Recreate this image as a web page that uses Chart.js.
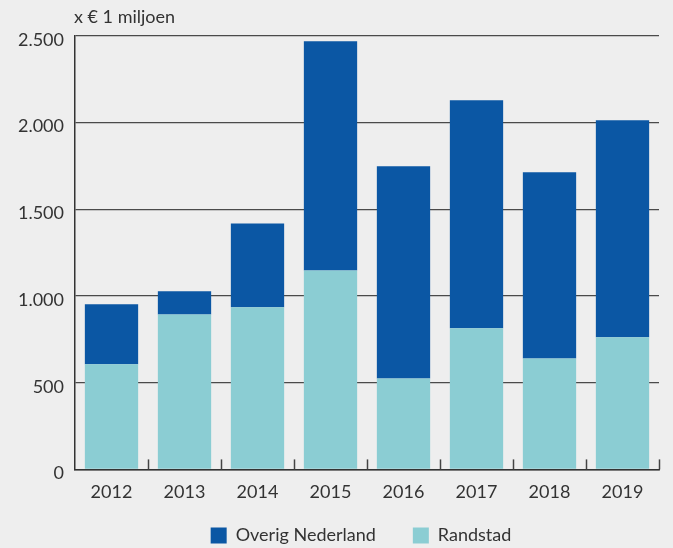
<!DOCTYPE html>
<html>
<head>
<meta charset="utf-8">
<script src="https://cdn.jsdelivr.net/npm/chart.js@4"></script>
<style>
  html, body { margin: 0; padding: 0; background: #eeeeee; }
  #wrap { width: 673px; height: 548px; }
</style>
</head>
<body>
<div id="wrap"><canvas id="chart"></canvas></div>
<script>
const jaren = ['2012', '2013', '2014', '2015', '2016', '2017', '2018', '2019'];
const randstad = [606, 894, 935, 1148, 525, 814, 640, 762];
const overigNederland = [346, 133, 484, 1322, 1223, 1315, 1074, 1252];
const yTicks = [0, 500, 1000, 1500, 2000, 2500];
const eenheid = 'x € 1 miljoen';

const tekstKleur = '#333333';
const fontFamilie = 'Lato, "Open Sans", sans-serif';

function formatNL(v) {
  return String(v).replace(/\B(?=(\d{3})+(?!\d))/g, '.');
}

// legenda wat dichter onder de as zetten (de ruimte tussen de items is groot)
const legendaPlugin = {
  id: 'legendaPositie',
  afterLayout(chart) {
    const lg = chart.legend;
    const area = chart.chartArea;
    const h = lg.bottom - lg.top;
    const w = lg.right - lg.left;
    lg.top = area.bottom + 20;
    lg.bottom = lg.top + h;
    lg.left = (area.left + area.right) / 2 - 6 - w / 2;
    lg.right = lg.left + w;
  }
};

// titel boven de y-as en tickjes omhoog op de x-as
const extraPlugin = {
  id: 'extra',
  afterDraw(chart) {
    const ctx = chart.ctx;
    const area = chart.chartArea;
    const x = chart.scales.x;
    ctx.save();
    ctx.fillStyle = tekstKleur;
    ctx.font = '18px ' + fontFamilie;
    ctx.textAlign = 'left';
    ctx.textBaseline = 'middle';
    ctx.fillText(eenheid, area.left - 1, 17);

    ctx.strokeStyle = '#444';
    ctx.lineWidth = 1.5;
    const half = (x.getPixelForValue(1) - x.getPixelForValue(0)) / 2;
    for (let i = 0; i < jaren.length; i++) {
      const px = Math.round(x.getPixelForValue(i) + half) + 0.5;
      ctx.beginPath();
      ctx.moveTo(px, area.bottom);
      ctx.lineTo(px, area.bottom - 10);
      ctx.stroke();
    }
    ctx.restore();
  }
};

new Chart(document.getElementById('chart'), {
  type: 'bar',
  data: {
    labels: jaren,
    datasets: [
      { label: 'Randstad', data: randstad, backgroundColor: '#8bcdd3', barPercentage: 0.73, categoryPercentage: 1 },
      { label: 'Overig Nederland', data: overigNederland, backgroundColor: '#0b57a4', barPercentage: 0.73, categoryPercentage: 1 }
    ]
  },
  options: {
    responsive: true,
    maintainAspectRatio: false,
    animation: false,
    layout: { padding: { top: 36, right: 14, left: 10, bottom: -32 } },
    plugins: {
      tooltip: { enabled: false },
      legend: {
        position: 'bottom',
        reverse: true,
        labels: {
          boxWidth: 16, boxHeight: 16, padding: 37,
          color: tekstKleur,
          font: { size: 18, family: fontFamilie }
        }
      }
    },
    scales: {
      x: {
        stacked: true,
        grid: { display: false, drawTicks: false },
        border: { display: true, color: '#333', width: 1.5 },
        ticks: { color: tekstKleur, padding: 12, font: { size: 18, family: fontFamilie } }
      },
      y: {
        stacked: true,
        min: 0,
        max: 2500,
        afterBuildTicks(scale) { scale.ticks = yTicks.map(v => ({ value: v })); },
        afterFit(scale) { scale.width = 65; },
        grid: { color: '#4a4a4a', lineWidth: 1.2, drawTicks: false },
        border: { display: true, color: '#333', width: 1.5 },
        ticks: {
          color: tekstKleur, padding: 11, labelOffset: 4,
          font: { size: 18, family: fontFamilie },
          callback: v => formatNL(v)
        }
      }
    }
  },
  plugins: [extraPlugin, legendaPlugin]
});
</script>
</body>
</html>
